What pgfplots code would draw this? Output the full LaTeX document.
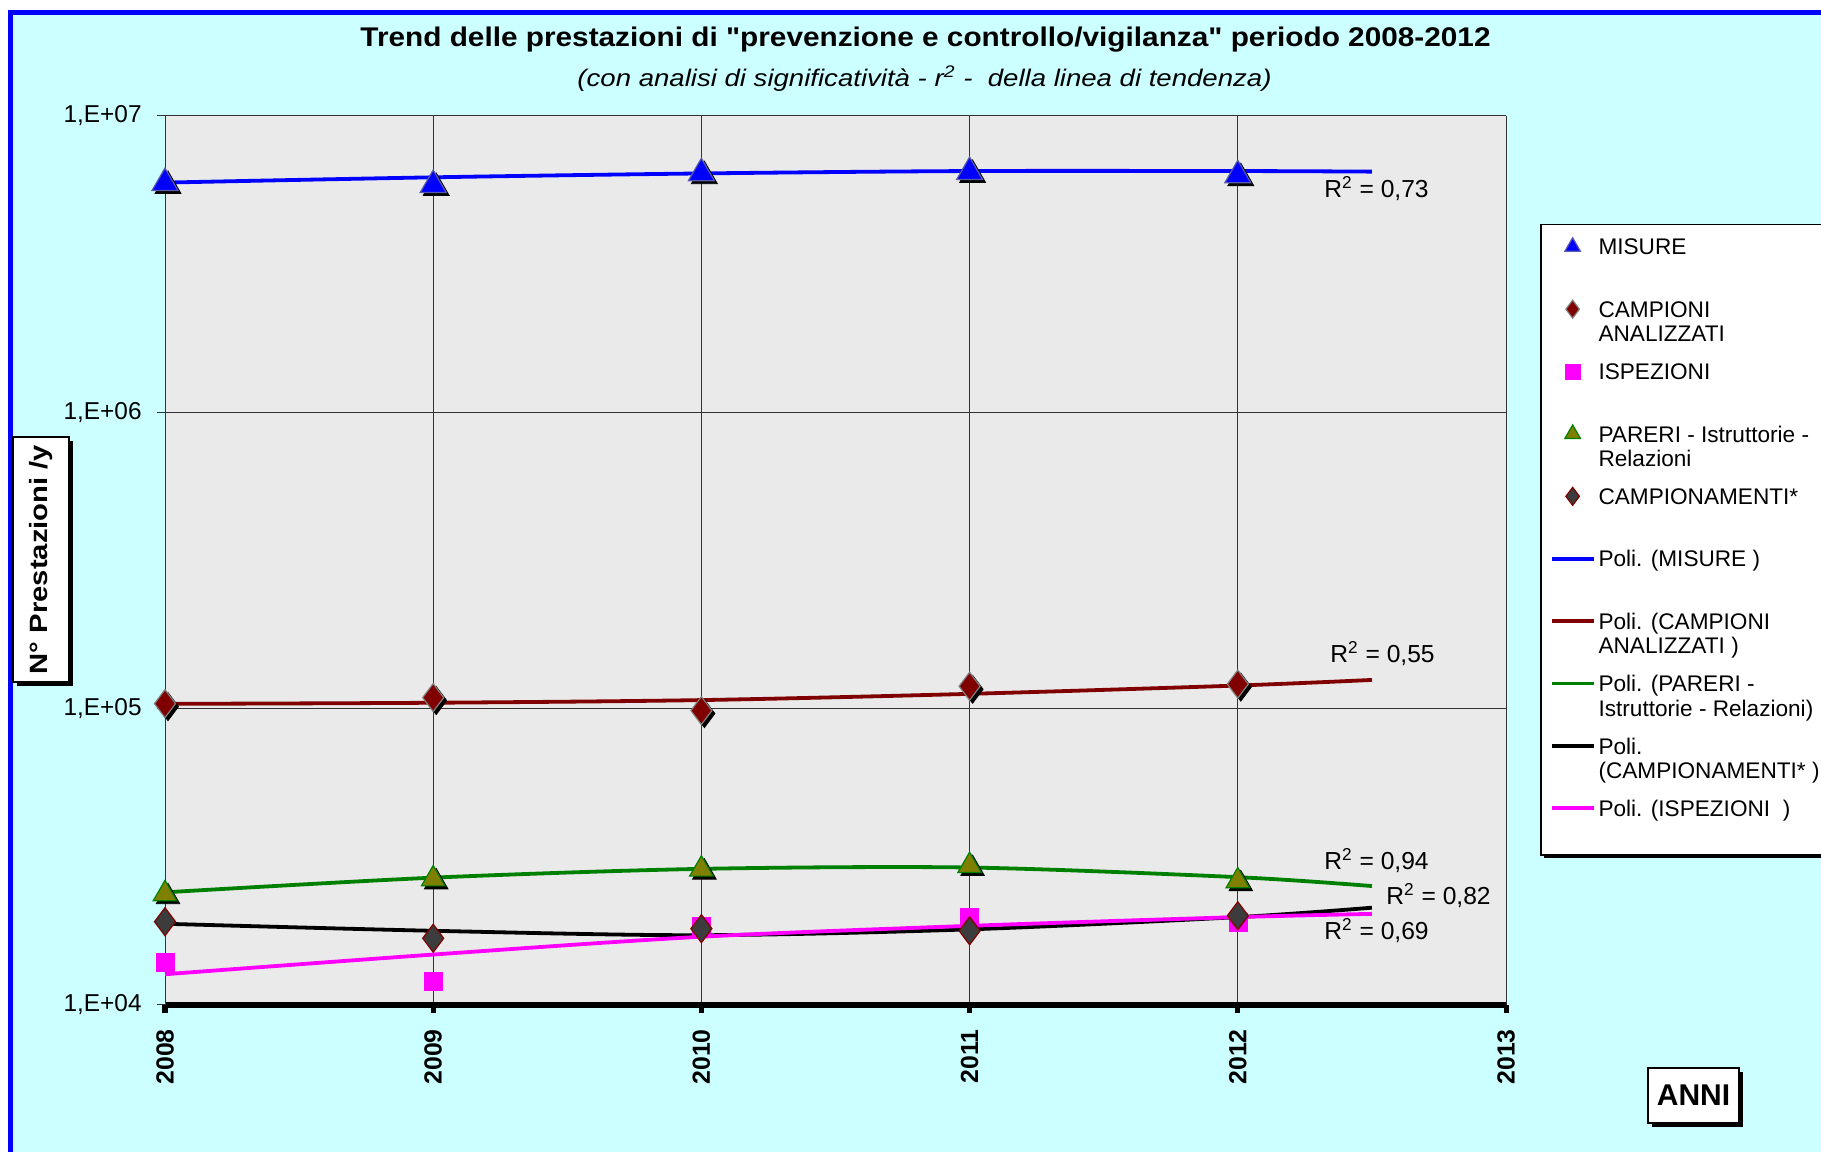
\documentclass[border=0pt]{standalone}
\usepackage{fontspec}
\setmainfont{Liberation Sans}
\newfontfamily\plainfont{Liberation Sans}[Ligatures=TeXOff]
\usepackage{graphicx}
\usepackage{pgfplots}
\usepackage{pgfplotstable}
\pgfplotsset{compat=1.18}
\usetikzlibrary{shadows}

\definecolor{bgcyan}{RGB}{204,255,255}
\definecolor{plotgray}{RGB}{234,234,234}
\definecolor{frameblue}{RGB}{0,0,255}
\definecolor{xlblue}{RGB}{0,0,255}
\definecolor{darkred}{RGB}{128,0,0}
\definecolor{olivefill}{RGB}{128,128,0}
\definecolor{xlgreen}{RGB}{0,128,0}
\definecolor{xlmagenta}{RGB}{255,0,255}
\definecolor{slate}{RGB}{90,90,170}
\definecolor{markgray}{RGB}{128,128,128}
\definecolor{darkfill}{RGB}{60,60,60}

% observed yearly values
\pgfplotstableread{
year misure  campioni ispezioni pareri campionamenti
2008 5.94e6  1.04e5   1.39e4    2.37e4 1.91e4
2009 5.85e6  1.09e5   1.20e4    2.66e4 1.68e4
2010 6.41e6  0.985e5  1.85e4    2.87e4 1.81e4
2011 6.47e6  1.19e5   1.97e4    2.95e4 1.78e4
2012 6.31e6  1.21e5   1.90e4    2.62e4 2.00e4
}\points

% polynomial trend lines (Poli.), extended half a year
\pgfplotstableread{
year   misure campioni pareri campionamenti ispezioni
2008   5.96e6 1.038e5  2.40e4 1.88e4       1.27e4
2009   6.21e6 1.047e5  2.69e4 1.78e4       1.48e4
2010   6.40e6 1.069e5  2.88e4 1.72e4       1.70e4
2011   6.52e6 1.122e5  2.91e4 1.80e4       1.85e4
2012   6.52e6 1.197e5  2.70e4 1.98e4       1.98e4
2012.5 6.49e6 1.250e5  2.52e4 2.13e4       2.03e4
}\trend

% legend entry: text hanging from the top of a fixed slot
\newcommand{\legtext}[2]{\parbox[t]{118bp}{\rule{0pt}{13.5bp}#1\newline #2}}

\pgfplotsset{
  legimg/.style={legend image code/.code={
    \draw[mark repeat=2,mark phase=2,##1,mark size=#1]
      plot coordinates {(0bp,6.15bp) (10.5bp,6.15bp) (21bp,6.15bp)};}},
}
\tikzset{
  boxshadow/.style={drop shadow={shadow xshift=2bp, shadow yshift=-2bp, fill=black, opacity=1}},
}

\begin{document}
\begin{tikzpicture}
\path[use as bounding box] (0,0) rectangle (910.5bp,-576bp);
\clip (0,0) rectangle (910.5bp,-576bp);
\fill[white] (0,0) rectangle (910.5bp,-576bp);
\fill[bgcyan] (5.25bp,-6.25bp) rectangle (930bp,-600bp);
\draw[frameblue, line width=2.5bp] (5.25bp,-600bp) -- (5.25bp,-6.25bp) -- (930bp,-6.25bp);

\node[anchor=base, inner sep=0pt] at (462.75bp,-23.3bp)
  {\plainfont\fontsize{13.5bp}{15bp}\selectfont\bfseries\resizebox{565bp}{\height}{Trend delle prestazioni di "prevenzione e controllo/vigilanza" periodo 2008-2012}};
\node[anchor=base, inner sep=0pt] at (462.25bp,-43.3bp)
  {\fontsize{12bp}{14bp}\selectfont\itshape\resizebox{347bp}{\height}{(con analisi di significatività - r\textsuperscript{2} -\ \ della linea di tendenza)}};

% shadow of the legend box
\fill[black] (772bp,-114bp) rectangle (935bp,-429.1bp);

\begin{axis}[
  at={(82.5bp,-502.5bp)}, anchor=south west,
  scale only axis, width=670.5bp, height=444.5bp,
  xmin=2008, xmax=2013, ymode=log, ymin=1e4, ymax=1e7,
  axis x line*=bottom, axis y line*=left,
  clip=false,
  axis background/.style={fill=plotgray},
  grid=major, grid style={line width=0.5bp, black!80},
  xtick={2008,2009,2010,2011,2012,2013},
  xticklabels={2008,2009,2010,2011,2012,2013},
  ytick={1e4,1e5,1e6,1e7},
  yticklabels={{1,E+04},{1,E+05},{1,E+06},{1,E+07}},
  yminorticks=false,
  tick align=outside, major tick length=4bp,
  x axis line style={line width=2.6bp, black},
  y axis line style={line width=0.5bp, black!80},
  xtick style={line width=2.5bp, black},
  ytick style={line width=0.5bp, black!80},
  xticklabel style={rotate=90, anchor=east, inner sep=0pt,
    font=\fontsize{12.4bp}{14bp}\selectfont\bfseries},
  yticklabel style={anchor=east, inner sep=0pt,
    font=\fontsize{12.2bp}{14bp}\selectfont},
  xticklabel shift=8bp, yticklabel shift=7.5bp,
  legend cell align=left,
  legend style={
    at={(1.02536,0.87852)}, anchor=north west,
    draw=black, line width=0.75bp, fill=white,
    inner xsep=4.5bp, inner ysep=1.55bp,
    row sep=0pt, column sep=1.5bp,
    font=\fontsize{11.3bp}{12.2bp}\selectfont,
    nodes={inner sep=0pt, text height=13.5bp, text depth=17.7bp},
  },
]
% trend lines
\addplot[forget plot, smooth, no markers, xlblue, line width=1.9bp] table[x=year,y=misure]{\trend};
\addplot[forget plot, smooth, no markers, darkred, line width=1.9bp] table[x=year,y=campioni]{\trend};
\addplot[forget plot, smooth, no markers, xlgreen, line width=1.9bp] table[x=year,y=pareri]{\trend};
\addplot[forget plot, smooth, no markers, black, line width=1.9bp] table[x=year,y=campionamenti]{\trend};
\addplot[forget plot, smooth, no markers, xlmagenta, line width=1.9bp] table[x=year,y=ispezioni]{\trend};

% marker shadows
\addplot[forget plot, only marks, mark=triangle*, mark size=7.5bp, mark options={fill=black, draw=black, xshift=1.5bp, yshift=-1.5bp}] table[x=year,y=misure]{\points};
\addplot[forget plot, only marks, mark=diamond*, mark size=7bp, mark options={fill=black, draw=black, xshift=1.5bp, yshift=-1.5bp}] table[x=year,y=campioni]{\points};
\addplot[forget plot, only marks, mark=triangle*, mark size=6.8bp, mark options={fill=black, draw=black, xshift=1.5bp, yshift=-1.5bp}] table[x=year,y=pareri]{\points};

% observed values
\addplot[only marks, mark=triangle*, mark size=7.5bp, mark options={fill=xlblue, draw=slate, line width=0.6bp}, legimg=4.5bp] table[x=year,y=misure]{\points};
\addlegendentry{\legtext{MISURE}{}}
\addplot[only marks, mark=diamond*, mark size=7bp, mark options={fill=darkred, draw=markgray, line width=0.6bp}, legimg=4.5bp] table[x=year,y=campioni]{\points};
\addlegendentry{\legtext{CAMPIONI}{ANALIZZATI}}
\addplot[only marks, mark=square*, mark size=4.5bp, mark options={fill=xlmagenta, draw=xlmagenta, line width=0.3bp}, legimg=3.8bp] table[x=year,y=ispezioni]{\points};
\addlegendentry{\legtext{ISPEZIONI}{}}
\addplot[only marks, mark=triangle*, mark size=6.8bp, mark options={fill=olivefill, draw=xlgreen, line width=0.6bp}, legimg=4.5bp] table[x=year,y=pareri]{\points};
\addlegendentry{\legtext{PARERI - Istruttorie -}{Relazioni}}
\addplot[only marks, mark=diamond*, mark size=7bp, mark options={fill=darkfill, draw=darkred, line width=0.6bp}, legimg=4.5bp] table[x=year,y=campionamenti]{\points};
\addlegendentry{\legtext{CAMPIONAMENTI*}{}}

\addlegendimage{no markers, xlblue, line width=1.9bp, legimg=1bp}
\addlegendentry{\legtext{Poli. (MISURE )}{}}
\addlegendimage{no markers, darkred, line width=1.9bp, legimg=1bp}
\addlegendentry{\legtext{Poli. (CAMPIONI}{ANALIZZATI )}}
\addlegendimage{no markers, xlgreen, line width=1.9bp, legimg=1bp}
\addlegendentry{\legtext{Poli. (PARERI -}{Istruttorie - Relazioni)}}
\addlegendimage{no markers, black, line width=1.9bp, legimg=1bp}
\addlegendentry{\legtext{Poli.}{(CAMPIONAMENTI* )}}
\addlegendimage{no markers, xlmagenta, line width=1.9bp, legimg=1bp}
\addlegendentry{\legtext{Poli. (ISPEZIONI\ \ )}{}}
\end{axis}

% coefficients of determination of the trend lines
\begin{scope}[every node/.style={anchor=base west, inner sep=0pt, font=\fontsize{12.3bp}{14bp}\selectfont}]
\node at (662bp,-98.75bp)  {R\textsuperscript{2} = 0,73};
\node at (665bp,-331.25bp) {R\textsuperscript{2} = 0,55};
\node at (662bp,-434.75bp) {R\textsuperscript{2} = 0,94};
\node at (693bp,-452.25bp) {R\textsuperscript{2} = 0,82};
\node at (662bp,-469.5bp)  {R\textsuperscript{2} = 0,69};
\end{scope}

% axis titles in framed boxes
\node[draw=black, line width=0.75bp, fill=white, minimum width=28bp, minimum height=122.5bp, inner sep=0pt, boxshadow]
  at (20.5bp,-279.75bp) {\rotatebox{90}{\fontsize{12.5bp}{14bp}\selectfont\bfseries\scalebox{1.17}[1]{N° Prestazioni /y}}};
\node[draw=black, line width=0.75bp, fill=white, minimum width=45.5bp, minimum height=27.5bp, inner sep=0pt, boxshadow]
  at (846.75bp,-547.75bp) {\fontsize{15bp}{17bp}\selectfont\bfseries ANNI};
\end{tikzpicture}
\end{document}
